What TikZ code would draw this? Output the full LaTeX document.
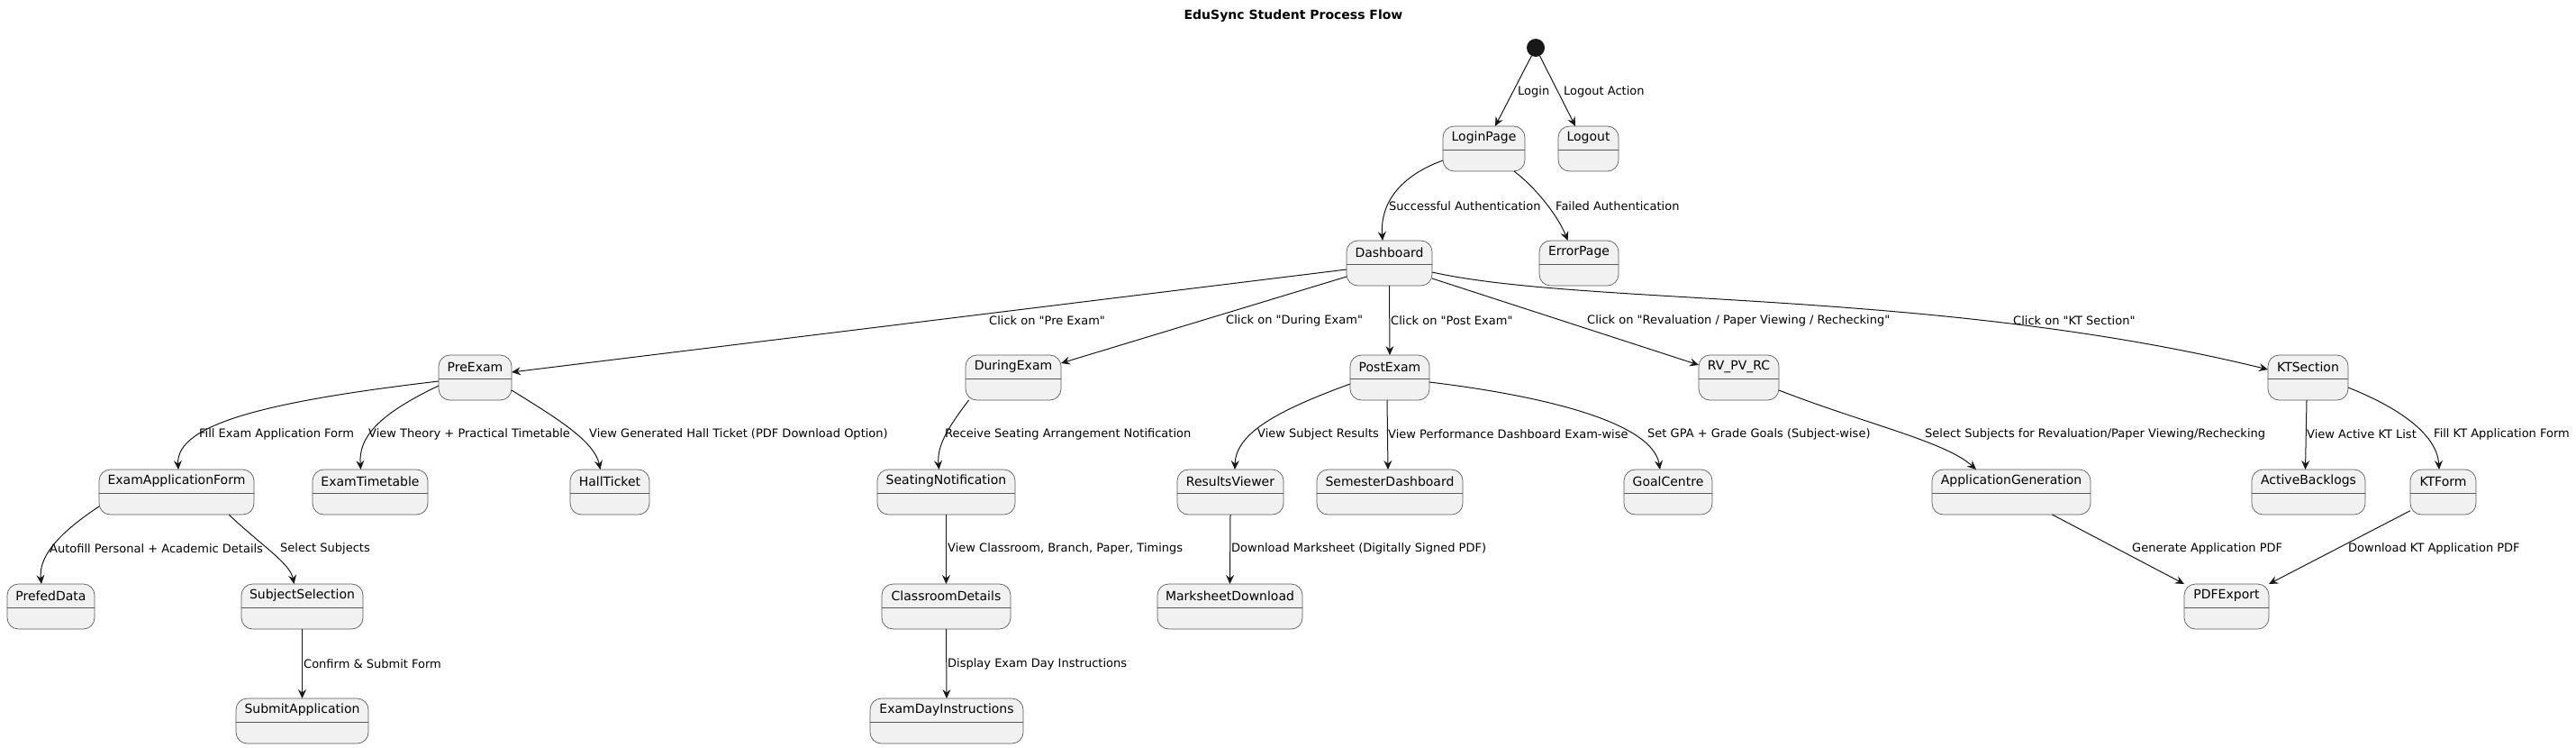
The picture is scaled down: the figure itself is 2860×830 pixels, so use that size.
\documentclass[tikz,border=0pt]{standalone}
\usepackage{fontspec}
\setmainfont{DejaVu Sans}[Ligatures=TeXOff]
\usetikzlibrary{arrows.meta}
\definecolor{stfill}{HTML}{F1F1F1}
\definecolor{stline}{HTML}{181818}
\definecolor{stborder}{HTML}{5A5A5A}
\tikzset{
 stbox/.style={draw=stborder, line width=0.7pt, fill=stfill, rounded corners=12.5pt, inner sep=0pt, outer sep=0pt, minimum height=50},
 divline/.style={draw=stborder, line width=0.7pt},
 sttext/.style={font=\fontsize{14}{16}\selectfont, inner sep=0pt},
 lbl/.style={font=\fontsize{13}{15}\selectfont, anchor=west, inner sep=0pt},
 flow/.style={draw=stline, line width=1pt, -{Stealth[length=10pt,width=9pt,inset=3.5pt]}},
}
\newcommand\stnode[5]{%
 \node[stbox, minimum width={#4-#3}] (#1) at ({(#3+#4)/2},{-#5-25}) {};
 \draw[divline] ({#3},{-#5-26}) -- ({#4},{-#5-26});
 \node[sttext] (#1-t) at ({(#3+#4)/2},{-#5-13}) {#2};
}
\begin{document}
\begin{tikzpicture}[x=1pt,y=1pt]
\useasboundingbox[fill=white] (0,0) rectangle (2860,-830);
\node[font=\bfseries\fontsize{14}{16}\selectfont, inner sep=0pt] (title) at (1436,-18) {EduSync Student Process Flow};
\node[circle, fill=stline, minimum size=20, inner sep=0pt, outer sep=0pt] (start) at (1705,-53) {};

\stnode{LoginPage}{LoginPage}{1602}{1693}{140}
\stnode{Logout}{Logout}{1730}{1797}{140}
\stnode{Dashboard}{Dashboard}{1495}{1590}{267}
\stnode{ErrorPage}{ErrorPage}{1709}{1797}{267}
\stnode{PreExam}{PreExam}{487}{568}{394}
\stnode{DuringExam}{DuringExam}{1072}{1178}{394}
\stnode{PostExam}{PostExam}{1499}{1587}{394}
\stnode{RVPVRC}{RV\_PV\_RC}{1886}{1975}{394}
\stnode{KTSection}{KTSection}{2518}{2607}{394}
\stnode{ExamApplicationForm}{ExamApplicationForm}{110}{282}{521}
\stnode{ExamTimetable}{ExamTimetable}{347}{475}{521}
\stnode{HallTicket}{HallTicket}{633}{721}{521}
\stnode{SeatingNotification}{SeatingNotification}{974}{1127}{521}
\stnode{ResultsViewer}{ResultsViewer}{1307}{1425}{521}
\stnode{SemesterDashboard}{SemesterDashboard}{1462}{1624}{521}
\stnode{GoalCentre}{GoalCentre}{1803}{1901}{521}
\stnode{ApplicationGeneration}{ApplicationGeneration}{2145}{2321}{521}
\stnode{ActiveBacklogs}{ActiveBacklogs}{2500}{2626}{521}
\stnode{KTForm}{KTForm}{2676}{2749}{521}
\stnode{PrefedData}{PrefedData}{8}{105}{648}
\stnode{SubjectSelection}{SubjectSelection}{268}{403}{648}
\stnode{ClassroomDetails}{ClassroomDetails}{979}{1122}{648}
\stnode{MarksheetDownload}{MarksheetDownload}{1285}{1446}{648}
\stnode{PDFExport}{PDFExport}{2425}{2519}{648}
\stnode{SubmitApplication}{SubmitApplication}{262}{409}{775}
\stnode{ExamDayInstructions}{ExamDayInstructions}{966}{1136}{775}

% connectors
\draw[flow] (start) -- ([shift={(58,0)}]LoginPage.north west);
\draw[flow] (start) -- ([shift={(19,0)}]Logout.north west);
\draw[flow] ([shift={(0,-38)}]LoginPage.north west) .. controls (1555,-195) and (1532,-225) .. ([shift={(40,0)}]Dashboard.north west);
\draw[flow] ([shift={(79,0)}]LoginPage.south west) .. controls (1705,-208) and (1730,-240) .. ([shift={(31.6,0)}]ErrorPage.north west);
\draw[flow] ([shift={(0,-32)}]Dashboard.north west) -- ([shift={(0,-19)}]PreExam.north east);
\draw[flow] ([shift={(0,-40)}]Dashboard.north west) -- ([shift={(0,-9)}]DuringExam.north east);
\draw[flow] (Dashboard.south) -- (PostExam.north);
\draw[flow] ([shift={(0,-42)}]Dashboard.north east) -- ([shift={(0,-11)}]RVPVRC.north west);
\draw[flow] ([shift={(0,-35)}]Dashboard.north east) .. controls (1760,-340) and (2150,-320) .. ([shift={(0,-16)}]KTSection.north west);
\draw[flow] ([shift={(0,-29)}]PreExam.north west) .. controls (300,-445) and (195,-470) .. ([shift={(88,0)}]ExamApplicationForm.north west);
\draw[flow] ([shift={(0,-34)}]PreExam.north west) .. controls (420,-460) and (398,-485) .. ([shift={(53.5,0)}]ExamTimetable.north west);
\draw[flow] ([shift={(0,-39)}]PreExam.north east) .. controls (620,-465) and (660,-490) .. ([shift={(33.5,0)}]HallTicket.north west);
\draw[flow] ([shift={(3.6,0)}]DuringExam.south west) .. controls (1052,-475) and (1040,-495) .. ([shift={(68.5,0)}]SeatingNotification.north west);
\draw[flow] ([shift={(0,-32)}]PostExam.north west) .. controls (1420,-455) and (1372,-480) .. ([shift={(64,0)}]ResultsViewer.north west);
\draw[flow] ([shift={(41,0)}]PostExam.south west) -- ([shift={(79,0)}]SemesterDashboard.north west);
\draw[flow] ([shift={(0,-30)}]PostExam.north east) .. controls (1720,-440) and (1835,-470) .. ([shift={(40,0)}]GoalCentre.north west);
\draw[flow] ([shift={(0,-39)}]RVPVRC.north east) .. controls (2070,-470) and (2160,-490) .. ([shift={(49,0)}]ApplicationGeneration.north west);
\draw[flow] ([shift={(43,0)}]KTSection.south west) -- ([shift={(59.5,0)}]ActiveBacklogs.north west);
\draw[flow] ([shift={(0,-36)}]KTSection.north east) .. controls (2670,-455) and (2706,-485) .. ([shift={(32,0)}]KTForm.north west);
\draw[flow] ([shift={(0,-41)}]ExamApplicationForm.north west) .. controls (60,-595) and (43,-620) .. ([shift={(38,0)}]PrefedData.north west);
\draw[flow] ([shift={(144,0)}]ExamApplicationForm.south west) .. controls (290,-605) and (322,-625) .. ([shift={(58.5,0)}]SubjectSelection.north west);
\draw[flow] (SubjectSelection.south) -- (SubmitApplication.north);
\draw[flow] (SeatingNotification.south) -- (ClassroomDetails.north);
\draw[flow] (ClassroomDetails.south) -- (ExamDayInstructions.north);
\draw[flow] (ResultsViewer.south) -- (MarksheetDownload.north);
\draw[flow] ([shift={(133.4,0)}]ApplicationGeneration.south west) -- (PDFExport.north west);
\draw[flow] ([shift={(0,4.3)}]KTForm.south west) -- (PDFExport.north east);

% labels
\node[lbl] (l1) at (1685,-102) {Login};
\node[lbl] (l2) at (1736,-102) {Logout Action};
\node[lbl] (l3) at (1542,-229) {Successful Authentication};
\node[lbl] (l4) at (1727,-229) {Failed Authentication};
\node[lbl] (l5) at (1098,-356) {Click on "Pre Exam"};
\node[lbl] (l6) at (1361,-356) {Click on "During Exam"};
\node[lbl] (l7) at (1544,-356) {Click on "Post Exam"};
\node[lbl] (l8) at (1762,-356) {Click on "Revaluation / Paper Viewing / Rechecking"};
\node[lbl] (l9) at (2235,-356) {Click on "KT Section"};
\node[lbl] (l10) at (221,-482) {Fill Exam Application Form};
\node[lbl] (l11) at (409,-482) {View Theory + Practical Timetable};
\node[lbl] (l12) at (654,-482) {View Generated Hall Ticket (PDF Download Option)};
\node[lbl] (l13) at (1049,-482) {Receive Seating Arrangement Notification};
\node[lbl] (l14) at (1396,-482) {View Subject Results};
\node[lbl] (l15) at (1541,-482) {View Performance Dashboard Exam-wise};
\node[lbl] (l16) at (1829,-482) {Set GPA + Grade Goals (Subject-wise)};
\node[lbl] (l17) at (2137,-482) {Select Subjects for Revaluation/Paper Viewing/Rechecking};
\node[lbl] (l18) at (2561,-482) {View Active KT List};
\node[lbl] (l19) at (2702,-482) {Fill KT Application Form};
\node[lbl] (l20) at (55,-609) {Autofill Personal + Academic Details};
\node[lbl] (l21) at (311,-609) {Select Subjects};
\node[lbl] (l22) at (1052,-609) {View Classroom, Branch, Paper, Timings};
\node[lbl] (l23) at (1367,-609) {Download Marksheet (Digitally Signed PDF)};
\node[lbl] (l24) at (2367,-609) {Generate Application PDF};
\node[lbl] (l25) at (2607,-609) {Download KT Application PDF};
\node[lbl] (l26) at (337,-737) {Confirm \& Submit Form};
\node[lbl] (l27) at (1052,-737) {Display Exam Day Instructions};
\end{tikzpicture}
\end{document}
